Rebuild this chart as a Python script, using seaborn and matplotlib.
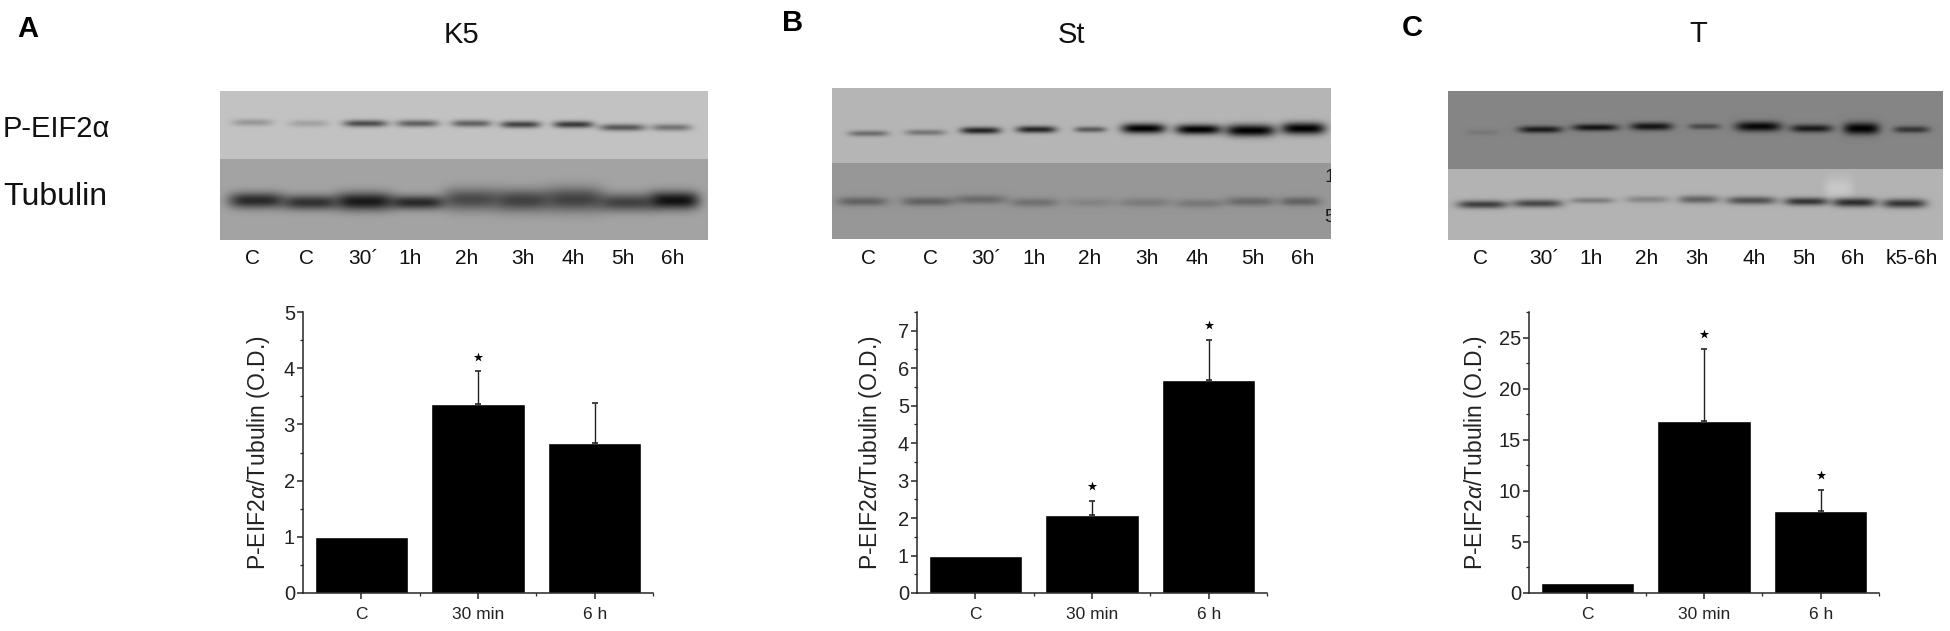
import numpy as np
import pandas as pd
import seaborn as sns
import matplotlib.pyplot as plt
from matplotlib.patches import Rectangle

sns.set_style("ticks")
plt.rcParams["font.family"] = ["Liberation Sans", "DejaVu Sans"]
plt.rcParams["mathtext.fontset"] = "custom"
plt.rcParams["mathtext.it"] = "Liberation Sans:italic"
plt.rcParams["mathtext.rm"] = "Liberation Sans"

#Bar chart values
groups = ["C", "30 min", "6 h"]
k5_values = [1.0, 3.37, 2.67]
k5_err = [0.0, 0.58, 0.71]
k5_stars = [np.nan, 4.2, np.nan]
st_values = [1.0, 2.07, 5.68]
st_err = [0.0, 0.39, 1.08]
st_stars = [np.nan, 2.85, 7.16]
t_values = [1.0, 16.8, 8.05]
t_err = [0.0, 7.1, 2.05]
t_stars = [np.nan, 25.3, 11.5]

#Lane labels under the blots
k5_lanes = ["C", "C", "30´", "1h", "2h", "3h", "4h", "5h", "6h"]
st_lanes = ["C", "C", "30´", "1h", "2h", "3h", "4h", "5h", "6h"]
t_lanes = ["C", "30´", "1h", "2h", "3h", "4h", "5h", "6h", "k5-6h"]

#Band darkness read from the blots (0 = nothing, 1 = black)
k5_peif = [0.22, 0.16, 0.6, 0.5, 0.5, 0.65, 0.7, 0.55, 0.4]
k5_tub = [0.75, 0.7, 0.85, 0.75, 0.55, 0.6, 0.6, 0.6, 0.9]
st_peif = [0.4, 0.35, 0.8, 0.8, 0.5, 1.0, 1.0, 1.0, 1.0]
st_tub = [0.35, 0.35, 0.3, 0.25, 0.12, 0.18, 0.2, 0.3, 0.35]
t_peif = [0.1, 0.8, 0.85, 0.85, 0.45, 0.95, 0.8, 1.0, 0.6]
t_tub = [0.65, 0.6, 0.3, 0.25, 0.45, 0.55, 0.7, 0.75, 0.7]


def blot(box, split, bg, rows):
    #box is left, right, top, bottom in figure pixels
    left, right, top, bottom = box
    xx, yy = np.meshgrid(np.arange(left, right), np.arange(top, bottom))
    img = np.where(yy < split, bg[0], bg[1]).astype(float)
    for r in rows:
        for cx, cy, amp, hw, hh in zip(r["x"], r["y"], r["amp"], r["hw"], r["hh"]):
            shape = np.exp(-((xx - cx) / hw) ** 4) * np.exp(-((yy - cy) / hh) ** 2)
            img = img * (1 - amp * shape)
    ov.imshow(img, cmap="gray", vmin=0, vmax=1, extent=(left, right, bottom, top),
              aspect="auto", interpolation="bilinear", zorder=1)


fig = plt.figure(figsize=(19.5, 6.31), dpi=100)
ov = fig.add_axes([0, 0, 1, 1])

#Panel A blot
blot((220, 708, 91, 240), 159, (0.76, 0.64), [
    {"x": [252, 308, 365, 417, 471, 520, 573, 622, 671],
     "y": [122, 123, 123, 123, 123, 124, 124, 127, 127],
     "amp": k5_peif, "hw": [20, 20, 22, 21, 20, 20, 20, 23, 20], "hh": [3.5] * 9},
    {"x": [256, 310, 364, 417, 471, 522, 574, 627, 674],
     "y": [200, 202, 201, 202, 199, 200, 199, 202, 200],
     "amp": k5_tub, "hw": [28, 28, 29, 28, 28, 28, 29, 29, 25], "hh": [8, 7.5, 9, 7, 11, 11, 12, 9, 9]},
])

#Panel B blot
blot((832, 1331, 88, 239), 163, (0.71, 0.59), [
    {"x": [868, 925, 980, 1036, 1090, 1143, 1198, 1250, 1303],
     "y": [133, 132, 130, 129, 129, 128, 129, 130, 128],
     "amp": st_peif, "hw": [20, 20, 20, 20, 16, 22, 23, 25, 22], "hh": [3, 3, 3.5, 3.5, 3, 5, 5, 6, 6]},
    {"x": [862, 927, 980, 1034, 1090, 1145, 1199, 1250, 1300],
     "y": [201, 201, 199, 202, 202, 202, 203, 201, 201],
     "amp": st_tub, "hw": [25, 26, 26, 24, 25, 26, 24, 25, 20], "hh": [4.5] * 9},
])

#Panel C blot
blot((1448, 1943, 91, 240), 169, (0.52, 0.70), [
    {"x": [1482, 1540, 1595, 1651, 1704, 1758, 1811, 1861, 1911],
     "y": [132, 129, 127, 126, 126, 126, 128, 128, 129],
     "amp": t_peif, "hw": [16, 22, 23, 21, 16, 23, 21, 18, 18], "hh": [3, 3.5, 3.5, 4, 3, 5, 4, 6, 3.5]},
    {"x": [1482, 1537, 1592, 1647, 1698, 1751, 1806, 1854, 1904],
     "y": [204, 203, 200, 199, 199, 200, 201, 202, 203],
     "amp": t_tub, "hw": [25, 25, 22, 22, 20, 25, 22, 22, 22], "hh": [4, 4, 3, 3.5, 4, 4, 4, 4.5, 4.5]},
    {"x": [1838], "y": [188], "amp": [-0.12], "hw": [14], "hh": [11]},
])

ov.set_xlim(0, 1950)
ov.set_ylim(631, 0)
ov.axis("off")

#Cut off marker digits on the right edge of blot B
clip = Rectangle((832, 88), 499, 151, transform=ov.transData)
for s, yy in zip(["1", "5"], [178, 217]):
    mark = ov.text(1324, yy, s, fontsize=14, ha="left", va="center", color="#1a1a1a",
                   zorder=2, clip_on=True)
    mark.set_clip_path(clip)

#Text around the blots
lane_x = [
    [253, 307, 363, 410, 467, 523, 573, 623, 673],
    [869, 931, 986, 1034, 1090, 1147, 1197, 1253, 1303],
    [1480, 1544, 1591, 1647, 1697, 1754, 1804, 1853, 1912],
]
for xs, labels in zip(lane_x, [k5_lanes, st_lanes, t_lanes]):
    for x, lab in zip(xs, labels):
        ov.text(x, 259, lab, fontsize=15, ha="center", va="center", color="#111111")

for x, y, s in [(461, 35, "K5"), (1071, 35, "St"), (1698, 34, "T")]:
    ov.text(x, y, s, fontsize=21, ha="center", va="center", color="#111111")
for x, y, s in [(28, 29, "A"), (793, 23, "B"), (1412, 28, "C")]:
    ov.text(x, y, s, fontsize=21, fontweight="bold", ha="center", va="center", color="black")
ov.text(3, 129, "P-EIF2\u03b1", fontsize=21, ha="left", va="center", color="#111111")
ov.text(3, 197, "Tubulin", fontsize=23, ha="left", va="center", color="#111111")


def bars(left, values, err, stars, top, major, minor, label_x):
    ax = fig.add_axes([left / 1950, (631 - 593) / 631, 350 / 1950, 281 / 631])
    ax.patch.set_alpha(0)
    data = pd.DataFrame({"group": groups, "value": values})
    sns.barplot(x="group", y="value", data=data, color="black", saturation=1, width=0.8, ax=ax)
    pos = np.arange(len(groups))
    has_err = np.array(err) > 0
    ax.errorbar(pos[has_err], np.array(values)[has_err], yerr=[np.zeros(has_err.sum()), np.array(err)[has_err]],
                fmt="none", ecolor="#222222", elinewidth=1.0, capsize=2, capthick=1.2)
    ax.scatter(pos, stars, marker="*", s=50, color="black", linewidths=0)
    ax.set_xlim(-0.5, 2.5)
    ax.set_ylim(0, top)
    ax.set_yticks(np.arange(0, top + 0.01, major))
    ax.set_yticks(np.arange(0, top + 0.01, minor), minor=True)
    ax.set_xticks([0.5, 1.5, 2.5], minor=True)
    ax.tick_params(axis="y", which="major", length=4.3, width=1.1, labelsize=14.5, pad=1.5, labelcolor="#222222")
    ax.tick_params(axis="y", which="minor", length=2.2, width=0.9)
    ax.tick_params(axis="x", which="major", length=4.3, width=1.1, labelsize=12.5, pad=6, labelcolor="#222222")
    ax.tick_params(axis="x", which="minor", length=2.2, width=0.9)
    for side in ["top", "right"]:
        ax.spines[side].set_visible(False)
    for side in ["left", "bottom"]:
        ax.spines[side].set_linewidth(1.1)
    ax.set_xlabel("")
    ax.set_ylabel(r"P-EIF2$\alpha$/Tubulin (O.D.)", fontsize=16.5, color="#222222")
    ax.yaxis.set_label_coords((label_x - left) / 350, 0.5)
    return ax


bars(303, k5_values, k5_err, k5_stars, 5, 1, 0.5, 272)
bars(917, st_values, st_err, st_stars, 7.5, 1, 0.5, 884)
bars(1529, t_values, t_err, t_stars, 27.5, 5, 2.5, 1489)

fig.savefig("out.png", dpi=100)
plt.close()
